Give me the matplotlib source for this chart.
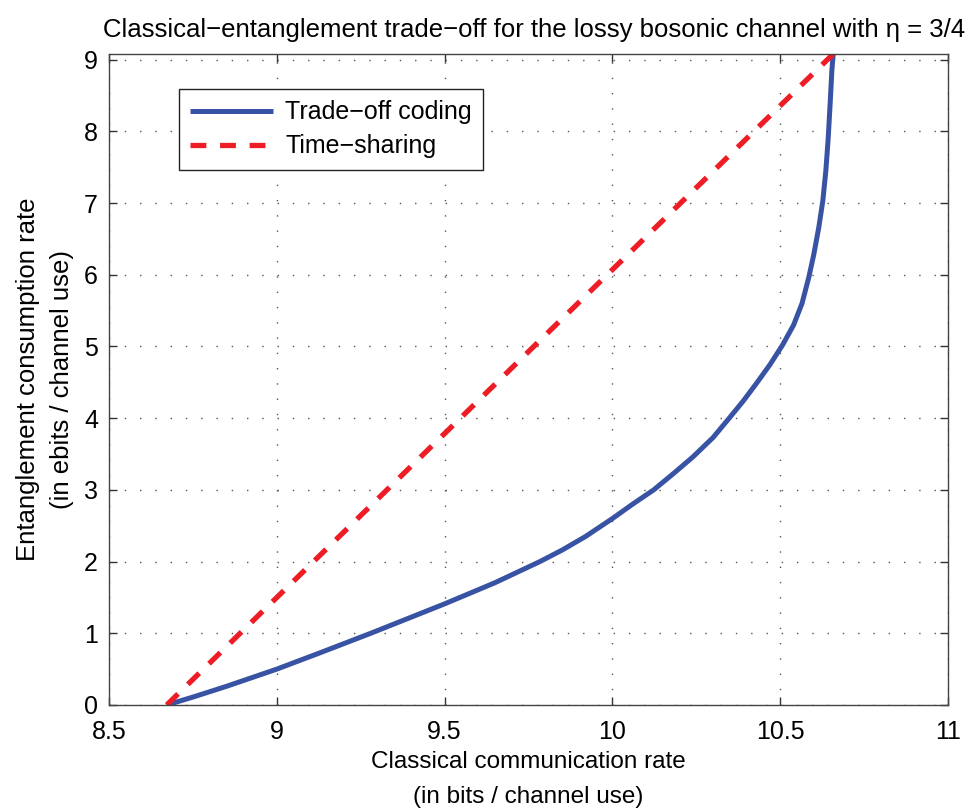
import numpy as np
import matplotlib.pyplot as plt

# Values
# Trade-off coding curve (classical rate, entanglement rate)
tradeoff_c = [8.672, 8.75, 8.85, 9.0, 9.13, 9.28, 9.5, 9.65, 9.784, 9.85,
              9.92, 10.0, 10.06, 10.123, 10.18, 10.24, 10.3, 10.348, 10.39,
              10.43, 10.47, 10.507, 10.54, 10.565, 10.585, 10.6, 10.615,
              10.627, 10.636, 10.643, 10.649, 10.654, 10.658]
tradeoff_e = [0.0, 0.11, 0.26, 0.5, 0.73, 1.0, 1.41, 1.705, 2.0, 2.16,
              2.35, 2.6, 2.8, 3.0, 3.22, 3.46, 3.73, 4.0, 4.24,
              4.49, 4.75, 5.02, 5.3, 5.6, 5.96, 6.28, 6.66,
              7.03, 7.45, 7.9, 8.4, 8.85, 9.08]

# Time-sharing line between the two end points
timeshare_c = [8.672, 10.658]
timeshare_e = [0.0, 9.08]

x_ticks = [8.5, 9, 9.5, 10, 10.5, 11]
y_ticks = [0, 1, 2, 3, 4, 5, 6, 7, 8, 9]

plt.rcParams['font.family'] = ['Liberation Sans', 'DejaVu Sans']
plt.rcParams['axes.unicode_minus'] = False

fig = plt.figure(figsize=(9.7, 8.09), dpi=100)
ax = fig.add_axes([0.1124, 0.1286, 0.8649, 0.8047])

ax.plot(tradeoff_c, tradeoff_e, color='#3953a4', lw=3.6,
        label='Trade\u2212off coding', solid_capstyle='butt',
        solid_joinstyle='round')
ax.plot(timeshare_c, timeshare_e, color='#ee1c25', lw=3.8,
        linestyle=(0, (3, 2.6)), label='Time\u2212sharing',
        dash_capstyle='butt')

ax.set_xlim(8.5, 11)
ax.set_ylim(0, 9.08)
ax.set_xticks(x_ticks)
ax.set_xticklabels(['8.5', '9', '9.5', '10', '10.5', '11'])
ax.set_yticks(y_ticks)

ax.grid(True, color='#555555', linestyle=(0, (1, 10)), lw=1.0)
ax.tick_params(direction='in', length=6, width=1, top=True, right=True,
               labelsize=18, colors='#333333', labelcolor='black')
ax.tick_params(axis='x', pad=11)
ax.tick_params(axis='y', pad=8)
for sp in ax.spines.values():
    sp.set_color('#444444')
    sp.set_linewidth(1.0)

ax.set_title('Classical\u2212entanglement trade\u2212off for the lossy bosonic channel with \u03b7 = 3/4',
             fontsize=18.5, pad=12, x=0.507)
ax.set_xlabel('Classical communication rate\n(in bits / channel use)',
              fontsize=17.5, linespacing=1.75, labelpad=5)
ax.set_ylabel('Entanglement consumption rate\n(in ebits / channel use)',
              fontsize=18.5, linespacing=1.55, labelpad=7)

leg = ax.legend(loc='upper left', bbox_to_anchor=(0.0834, 0.946),
                borderaxespad=0, fontsize=18, fancybox=False, framealpha=1,
                edgecolor='#222222', handlelength=3.3, borderpad=0.45,
                labelspacing=0.4, handletextpad=0.5)
leg.get_frame().set_linewidth(1.0)

fig.savefig('out.png', dpi=100)
